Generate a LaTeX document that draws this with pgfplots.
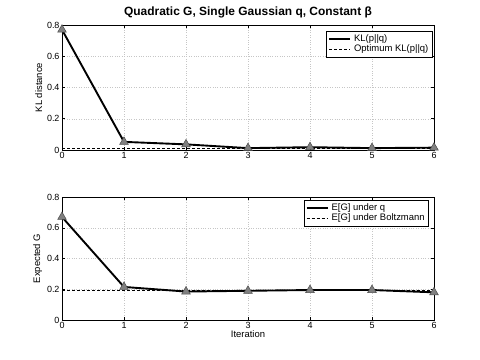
\documentclass[border=0pt]{standalone}
\usepackage{fontspec}
\setmainfont{Liberation Sans}
\usepackage{pgfplots}
\pgfplotsset{compat=1.18}
\pgfplotsset{
    myaxis/.style={
        scale only axis,
        width=372bp,
        xmin=0, xmax=6,
        ymin=0, ymax=0.8,
        xtick={0,...,6},
        ytick={0,0.2,0.4,0.6,0.8},
        yticklabels={0,0.2,0.4,0.6,0.8},
        grid=major,
        grid style={dotted, gray!45, line width=0.4pt},
        axis line style={line width=0.6pt},
        tick style={black, line width=0.5pt},
        major tick length=3bp,
        tick label style={font=\fontsize{9}{10}\selectfont},
        xticklabel style={yshift=1bp},
        yticklabel style={xshift=1bp},
        label style={font=\fontsize{9.5}{11}\selectfont},
        /pgf/number format/assume math mode=true,
        legend cell align=left,
        legend style={
            font=\fontsize{9.5}{11}\selectfont,
            draw=black, line width=0.5pt,
            fill=white,
            row sep=-2pt,
            inner sep=1.5pt,
            /tikz/every odd column/.append style={column sep=1bp},
        },
        legend image code/.code={\draw[#1, mark=none] (-2bp,0bp) -- (19bp,0bp);},
        clip=false,
    },
    qline/.style={black, line width=1.9pt, mark=triangle*,
        mark size=5bp,
        mark options={fill=black!50, draw=black!70, line width=0.5pt, solid}},
    optline/.style={black, dash pattern=on 3bp off 2bp, line width=1pt},
}
\begin{document}
\begin{tikzpicture}
\useasboundingbox (0bp,0bp) rectangle (480bp,360bp);
\begin{axis}[
    myaxis,
    at={(62bp,210bp)}, anchor=south west,
    height=125bp,
    ylabel={KL distance},
    ylabel style={yshift=-2bp},
    title={\textbf{Quadratic G, Single Gaussian q, Constant β}},
    title style={font=\fontsize{12}{14}\selectfont, yshift=-3bp},
    legend style={at={(0.995,0.952)}, anchor=north east},
]
\addplot[optline, forget plot] coordinates {(0,0.01) (6,0.01)};
\addplot[qline] coordinates {
    (0,0.77) (1,0.052) (2,0.036) (3,0.012) (4,0.018) (5,0.012) (6,0.015)
};
\addlegendentry{KL(p||q)}
\addlegendimage{optline}
\addlegendentry{Optimum KL(p||q)}
\end{axis}
\begin{axis}[
    myaxis,
    at={(62bp,40bp)}, anchor=south west,
    height=123bp,
    ylabel={Expected G},
    ylabel style={yshift=-2bp},
    xlabel={Iteration},
    xlabel style={yshift=5bp},
    legend style={at={(0.985,0.976)}, anchor=north east},
]
\addplot[optline, forget plot] coordinates {(0,0.19) (6,0.19)};
\addplot[qline] coordinates {
    (0,0.67) (1,0.215) (2,0.185) (3,0.19) (4,0.195) (5,0.195) (6,0.18)
};
\addlegendentry{E[G] under q}
\addlegendimage{optline, line width=0.6pt}
\addlegendentry{E[G] under Boltzmann}
\end{axis}
\end{tikzpicture}
\end{document}
